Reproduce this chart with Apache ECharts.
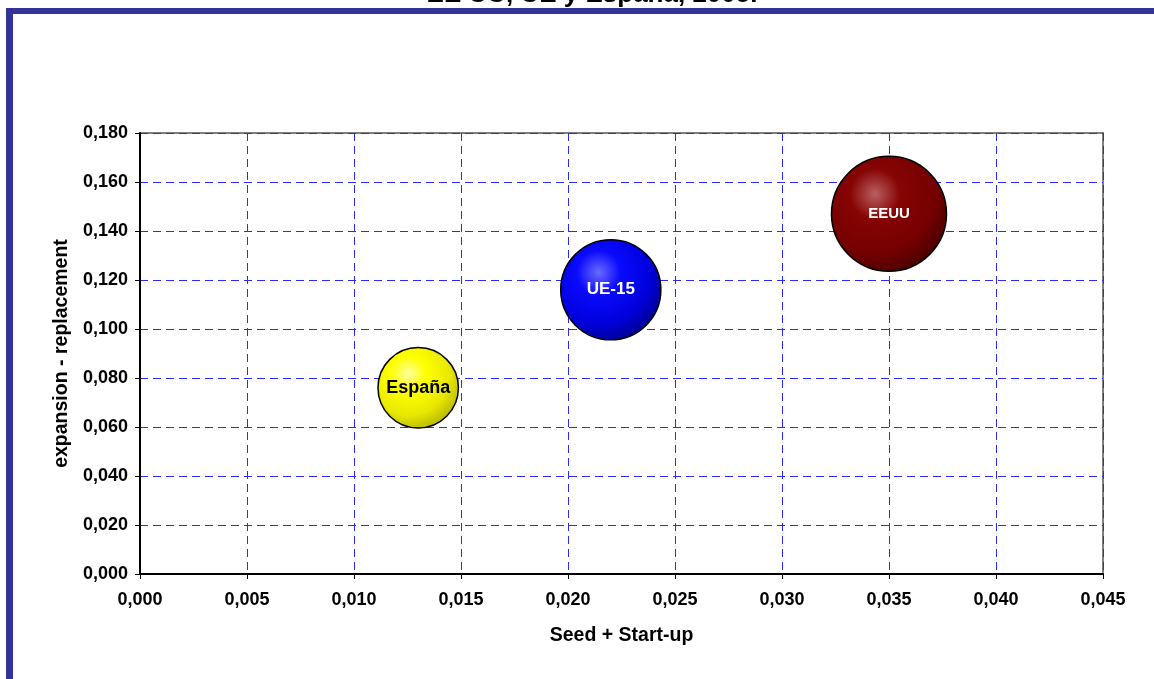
<!DOCTYPE html>
<html>
<head>
<meta charset="utf-8">
<script src="https://cdn.jsdelivr.net/npm/echarts@6/dist/echarts.min.js"></script>
<style>
  html, body { margin: 0; padding: 0; background: #ffffff; }
  #chart { width: 1154px; height: 679px; }
</style>
</head>
<body>
<div id="chart"></div>
<script>
// Venture capital by stage, % of GDP
const regions = ['España', 'UE-15', 'EEUU'];
const seedStartUp = [0.013, 0.022, 0.035];          // x: Seed + Start-up
const expansionReplacement = [0.076, 0.116, 0.147]; // y: expansion - replacement
const bubbleSize = [0.089, 0.138, 0.182];           // bubble size: total
const xTicks = { min: 0, max: 0.045, interval: 0.005 };
const yTicks = { min: 0, max: 0.18, interval: 0.02 };

const FONT = '"Liberation Sans", Arial, sans-serif';

const bubbleStyles = [
  { stops: ['#ffffa0', '#ffff00', '#e8e800', '#b4b400'], label: '#000000', size: 18 },
  { stops: ['#6a6aff', '#0a0aff', '#0000dc', '#00008c'], label: '#ffffff', size: 17 },
  { stops: ['#b86060', '#860404', '#760000', '#480000'], label: '#ffffff', size: 15 }
];

const maxSize = Math.max(...bubbleSize);
const data = regions.map((name, i) => ({
  name: name,
  value: [seedStartUp[i], expansionReplacement[i], bubbleSize[i]],
  itemStyle: {
    opacity: 1,
    color: {
      type: 'radial', x: 0.38, y: 0.33, r: 0.72,
      colorStops: [
        { offset: 0, color: bubbleStyles[i].stops[0] },
        { offset: 0.3, color: bubbleStyles[i].stops[1] },
        { offset: 0.7, color: bubbleStyles[i].stops[2] },
        { offset: 1, color: bubbleStyles[i].stops[3] }
      ]
    },
    borderColor: '#000000',
    borderWidth: 1.5
  },
  label: {
    color: bubbleStyles[i].label,
    fontSize: bubbleStyles[i].size
  }
}));

const fmt = v => v.toFixed(3).replace('.', ',');

const chart = echarts.init(document.getElementById('chart'), null, { renderer: 'canvas' });
chart.setOption({
  animation: false,
  backgroundColor: '#ffffff',
  textStyle: { fontFamily: FONT },
  graphic: [
    { type: 'rect', shape: { x: 6, y: 8, width: 1148, height: 6 }, style: { fill: '#333399' }, z: 10 },
    { type: 'rect', shape: { x: 6, y: 8, width: 7, height: 671 }, style: { fill: '#333399' }, z: 10 },
    {
      type: 'text', x: 592, y: 8, z: 9,
      style: {
        text: 'EE UU, UE y España, 2005.',
        font: 'bold 26px ' + FONT,
        fill: '#000000',
        align: 'center',
        verticalAlign: 'bottom'
      }
    }
  ],
  grid: {
    left: 140, right: 51, top: 133, bottom: 105,
    show: true, borderColor: '#808080', borderWidth: 2, backgroundColor: 'transparent'
  },
  xAxis: {
    type: 'value',
    min: xTicks.min, max: xTicks.max, interval: xTicks.interval,
    name: 'Seed + Start-up',
    nameLocation: 'middle',
    nameGap: 52,
    nameTextStyle: { fontFamily: FONT, fontWeight: 'bold', fontSize: 19.5, color: '#000000' },
    axisLine: { show: true, onZero: false, lineStyle: { color: '#000000', width: 2 } },
    axisTick: { show: true, inside: false, length: 5, lineStyle: { color: '#000000', width: 1 } },
    axisLabel: { margin: 17, fontFamily: FONT, fontWeight: 'bold', fontSize: 18, color: '#000000', formatter: fmt },
    splitLine: { show: true, lineStyle: { color: '#2a2aff', width: 1, type: [8, 5] } }
  },
  yAxis: {
    type: 'value',
    min: yTicks.min, max: yTicks.max, interval: yTicks.interval,
    name: 'expansion - replacement',
    nameLocation: 'middle',
    nameGap: 68,
    nameRotate: 90,
    nameTextStyle: { fontFamily: FONT, fontWeight: 'bold', fontSize: 19.5, color: '#000000' },
    axisLine: { show: true, onZero: false, lineStyle: { color: '#000000', width: 2 } },
    axisTick: { show: true, inside: false, length: 5, lineStyle: { color: '#000000', width: 1 } },
    axisLabel: { margin: 12, fontFamily: FONT, fontWeight: 'bold', fontSize: 18, color: '#000000', formatter: fmt },
    splitLine: { show: true, lineStyle: { color: '#2a2aff', width: 1, type: [8, 5] } }
  },
  series: [{
    type: 'scatter',
    data: data,
    symbolSize: v => 115 * Math.sqrt(v[2] / maxSize),
    label: {
      show: true,
      position: 'inside',
      formatter: p => p.name,
      fontFamily: FONT,
      fontWeight: 'bold'
    },
    emphasis: { disabled: true }
  }]
});
</script>
</body>
</html>
